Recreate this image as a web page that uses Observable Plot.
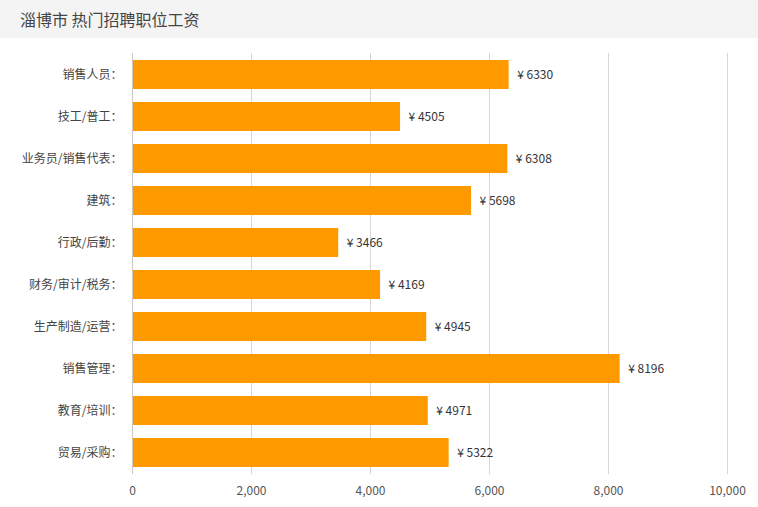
<!DOCTYPE html>
<html>
<head>
<meta charset="utf-8">
<script src="https://cdn.jsdelivr.net/npm/d3@7"></script>
<script src="https://cdn.jsdelivr.net/npm/@observablehq/plot@0.6"></script>
<style>
  body { margin: 0; background: #fff; font-family: "Noto Sans CJK SC", "Noto Sans", sans-serif; }
  #title { height: 38px; line-height: 38px; background: #f4f4f4; color: #444; font-size: 16px; padding-left: 20px; box-sizing: border-box; width: 758px; }
  #chart svg { display: block; }
</style>
</head>
<body>
<div id="title">淄博市 热门招聘职位工资</div>
<div id="chart"></div>
<script>
const categories = ["销售人员", "技工/普工", "业务员/销售代表", "建筑", "行政/后勤", "财务/审计/税务", "生产制造/运营", "销售管理", "教育/培训", "贸易/采购"];
const salaries = [6330, 4505, 6308, 5698, 3466, 4169, 4945, 8196, 4971, 5322];
const xTicks = [0, 2000, 4000, 6000, 8000, 10000];

const data = categories.map((c, i) => ({category: c, value: salaries[i]}));

const chart = Plot.plot({
  width: 758,
  height: 469,
  marginTop: 15,
  marginBottom: 33,
  marginLeft: 132,
  marginRight: 31,
  style: {fontFamily: '"Noto Sans CJK SC", sans-serif', fontSize: "12px", color: "#333", background: "#fff"},
  x: {domain: [0, 10000], label: null},
  y: {domain: categories, paddingInner: 0.31, paddingOuter: 0.155, label: null},
  marks: [
    Plot.ruleX(xTicks, {stroke: "#d6d6d6", strokeOpacity: 1}),
    Plot.barX(data, {x: "value", y: "category", fill: "#ff9900"}),
    Plot.ruleX([0], {stroke: "#c8c8c8"}),
    Plot.text(data, {x: "value", y: "category", text: d => "¥ " + d.value, dx: 8, textAnchor: "start", fill: "#333", fontSize: 12}),
    Plot.axisY({tickSize: 0, tickPadding: 10, fontSize: 12, fill: "#444", tickFormat: d => d + "："}),
    Plot.axisX({ticks: xTicks, tickSize: 0, tickPadding: 12, fontSize: 12, fill: "#555", tickFormat: d3.format(",")})
  ]
});
document.getElementById("chart").appendChild(chart);
</script>
</body>
</html>
